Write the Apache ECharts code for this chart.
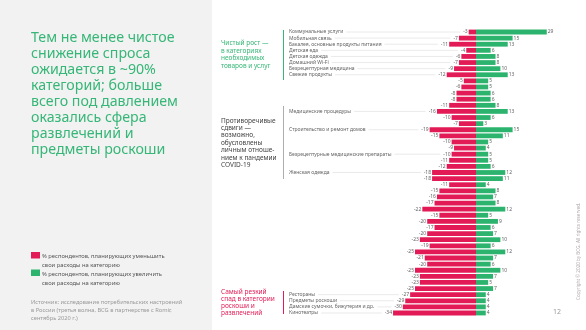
<!DOCTYPE html>
<html><head><meta charset="utf-8">
<script src="https://cdn.jsdelivr.net/npm/echarts@6/dist/echarts.min.js"></script>
<style>html,body{margin:0;padding:0;background:#fff}#c{width:586px;height:330px}</style>
</head><body><div id="c"></div>
<script>
const labels = ["Коммунальные услуги","Мобильная связь","Бакалея, основные продукты питания","Детская еда","Детская одежда","Домашний Wi-Fi","Безрецептурная медицина","Свежие продукты",
"","","","","","Медицинские процедуры","","","Строительство и ремонт домов","","","","Безрецептурные медицинские препараты","","","Женская одежда",
"","","","","","","","","","","","","","","","","","","",
"Рестораны","Предметы роскоши","Дамские сумочки, бижутерия и др.","Кинотеатры"];
const decrease = [-3,-7,-11,-4,-6,-7,-9,-12,-5,-6,-8,-8,-11,-16,-10,-7,-19,-15,-10,-9,-10,-11,-12,-18,-18,-11,-15,-16,-17,-22,-15,-20,-17,-20,-23,-19,-25,-21,-20,-25,-23,-23,-25,-27,-29,-30,-34];
const increase = [29,15,13,6,8,8,10,13,5,5,6,6,8,13,6,3,15,11,5,4,5,5,6,12,11,4,8,7,8,12,5,9,6,7,10,6,12,7,6,10,7,5,7,4,4,4,4];
const categories = labels.map((l,i)=>String(i));
const titleText = "Тем не менее чистое\nснижение спроса\nожидается в ~90%\nкатегорий; больше\nвсего под давлением\nоказались сфера\nразвлечений и\nпредметы роскоши";
const legendDec = "% респондентов, планирующих уменьшить\nсвои расходы на категорию";
const legendInc = "% респондентов, планирующих увеличить\nсвои расходы на категорию";
const sourceText = "Источник: исследование потребительских настроений\nв России (третья волна, BCG в партнерстве с Romir,\nсентябрь 2020 г.)";
const sec1 = "Чистый рост —\nв категориях\nнеобходимых\nтоваров и услуг";
const sec2 = "Противоречивые\nсдвиги —\nвозможно,\nобусловлены\nличным отноше-\nнием к пандемии\nCOVID-19";
const sec3 = "Самый резкий\nспад в категории\nроскоши и\nразвлечений";

const RED = '#e21b57', GREEN = '#2cb46f', TGREEN = '#36b677';
const FONT = '"Noto Sans", sans-serif';
const LBL_FS = 5, LBL_X = 289;
const cv = document.createElement('canvas').getContext('2d');
function tw(t, fs){ cv.font = fs + 'px ' + FONT; return cv.measureText(t).width; }

const chart = echarts.init(document.getElementById('c'));
const gridLeft = 378.4, gridRight = 12.4, gridTop = 28.95, gridBottom = 13.95;
chart.setOption({
  animation:false,
  textStyle:{fontFamily:FONT},
  grid:{left:gridLeft,right:gridRight,top:gridTop,bottom:gridBottom,containLabel:false},
  xAxis:{type:'value',min:-40,max:40,show:false},
  yAxis:{type:'category',data:categories,inverse:true,
    axisLine:{show:false},axisTick:{show:false},splitLine:{show:false},
    axisLabel:{interval:0,align:'left',margin:gridLeft-LBL_X,fontSize:LBL_FS,color:'#666',fontFamily:FONT,
      formatter:(v,i)=>labels[i]}},
  graphic:[
    {type:'rect',shape:{x:0,y:0,width:212,height:330},style:{fill:'#f2f2f2'},z:-10},
    {type:'text',x:31,y:30,style:{text:titleText,font:'14.2px '+FONT,fill:TGREEN,lineHeight:16}},
    {type:'rect',shape:{x:31,y:252,width:9,height:6.5},style:{fill:RED}},
    {type:'text',x:42,y:252,style:{text:legendDec,font:'5.8px '+FONT,fill:'#555',lineHeight:9}},
    {type:'rect',shape:{x:31,y:269.5,width:9,height:6.5},style:{fill:GREEN}},
    {type:'text',x:42,y:269.5,style:{text:legendInc,font:'5.8px '+FONT,fill:'#555',lineHeight:9}},
    {type:'text',x:31,y:298,style:{text:sourceText,font:'5.7px '+FONT,fill:'#999',lineHeight:8.3}},
    {type:'text',x:221,y:39.5,style:{text:sec1,font:'6.5px '+FONT,fill:TGREEN,lineHeight:7.5}},
    {type:'rect',shape:{x:283,y:30,width:1,height:50},style:{fill:TGREEN}},
    {type:'text',x:221,y:117,style:{text:sec2,font:'6.5px '+FONT,fill:'#444',lineHeight:7.4}},
    {type:'rect',shape:{x:283,y:106,width:0.8,height:73},style:{fill:'#999'}},
    {type:'text',x:221,y:288.5,style:{text:sec3,font:'6.5px '+FONT,fill:RED,lineHeight:7}},
    {type:'rect',shape:{x:283,y:291,width:1,height:23},style:{fill:RED}},
    {type:'text',x:553,y:308,style:{text:'12',font:'7px '+FONT,fill:'#999'}},
    {type:'text',x:576,y:300,rotation:Math.PI/2,style:{text:'Copyright © 2020 by BCG. All rights reserved.',font:'4.6px '+FONT,fill:'#aaa'}}
  ],
  series:[
    {type:'custom',data:decrease.map((v,i)=>[v,i]),encode:{x:0,y:1},clip:false,silent:true,z:1,
      renderItem:function(params,api){
        const i = params.dataIndex; const l = labels[i];
        if(!l) return null;
        const y = api.coord([0,i])[1];
        const x1 = LBL_X + tw(l,LBL_FS) + 3;
        const x2 = api.coord([decrease[i],i])[0] - tw(String(decrease[i]),LBL_FS) - 4;
        return {type:'line',shape:{x1:x1,y1:y,x2:x2,y2:y},style:{stroke:'#e4e4e4',lineWidth:0.8}};
      }},
    {type:'bar',data:decrease,barWidth:4.8,barGap:'-100%',itemStyle:{color:RED},
      label:{show:true,position:'left',distance:1,fontSize:LBL_FS,color:'#666',fontFamily:FONT}},
    {type:'bar',data:increase,barWidth:4.8,barGap:'-100%',itemStyle:{color:GREEN},
      label:{show:true,position:'right',distance:1,fontSize:LBL_FS,color:'#666',fontFamily:FONT}}
  ]
});
</script></body></html>
